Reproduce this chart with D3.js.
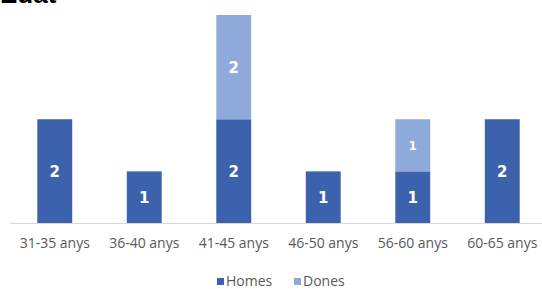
<!DOCTYPE html>
<html>
<head>
<meta charset="utf-8">
<script src="https://cdn.jsdelivr.net/npm/d3@7"></script>
<style>
  body { margin: 0; background: #fff; }
  svg { display: block; }
</style>
</head>
<body>
<div id="chart"></div>
<script>
const categories = ['31-35 anys', '36-40 anys', '41-45 anys', '46-50 anys', '56-60 anys', '60-65 anys'];
const homes = [2, 1, 2, 1, 1, 2];
const dones = [0, 0, 2, 0, 1, 0];
const seriesNames = ['Homes', 'Dones'];
const seriesColors = ['#3d62ad', '#8eaadb'];

const WIDTH = 542;
const HEIGHT = 289;

const rows = categories.map((c, i) => ({ cat: c, Homes: homes[i], Dones: dones[i] }));
const stacked = d3.stack().keys(seriesNames)(rows);

const svg = d3.select('#chart').append('svg')
	.attr('width', WIDTH)
	.attr('height', HEIGHT);

const x = d3.scaleBand()
	.domain(categories)
	.range([10, 547])
	.paddingInner(0.61)
	.paddingOuter(0.305);

const y = d3.scaleLinear()
	.domain([0, 4])
	.range([223.5, 15]);

// title, cut at the top like the source image
svg.append('text')
	.attr('x', 0)
	.attr('y', 3)
	.attr('font-family', 'Liberation Sans, Arial, sans-serif')
	.attr('font-weight', 'bold')
	.attr('font-size', 26)
	.attr('fill', '#000')
	.text('Edat');

// bars
const layers = svg.selectAll('g.layer')
	.data(stacked)
	.join('g')
		.attr('class', 'layer')
		.attr('fill', (d, i) => seriesColors[i]);

layers.selectAll('rect')
	.data(d => d.filter(p => p[1] > p[0]))
	.join('rect')
		.attr('x', d => x(d.data.cat))
		.attr('y', d => y(d[1]))
		.attr('width', x.bandwidth())
		.attr('height', d => y(d[0]) - y(d[1]));

// value labels
layers.selectAll('text')
	.data(d => d.filter(p => p[1] > p[0]).map(p => ({ p, key: d.key })))
	.join('text')
		.attr('x', d => x(d.p.data.cat) + x.bandwidth() / 2)
		.attr('y', d => (y(d.p[0]) + y(d.p[1])) / 2)
		.attr('dy', '0.36em')
		.attr('text-anchor', 'middle')
		.attr('font-family', 'DejaVu Sans, sans-serif')
		.attr('font-weight', 'bold')
		.attr('font-size', d => d.key === 'Dones' && d.p[1] - d.p[0] < 2 ? 12 : 15)
		.attr('fill', '#fff')
		.text(d => d.p[1] - d.p[0]);

// x axis
const xAxis = svg.append('g')
	.attr('transform', `translate(0, ${y(0)})`)
	.call(d3.axisBottom(x).tickSize(0).tickPadding(15));
xAxis.select('.domain').attr('stroke', '#d9d9d9').attr('d', 'M10,0H542');
xAxis.selectAll('text')
	.attr('font-family', 'Open Sans, sans-serif')
	.attr('font-size', 14)
	.attr('fill', '#595959');

// legend
const legend = svg.append('g').attr('transform', 'translate(217, 281)');
const items = legend.selectAll('g')
	.data(seriesNames)
	.join('g')
		.attr('transform', (d, i) => `translate(${i * 77}, 0)`);
items.append('rect')
	.attr('x', 0)
	.attr('y', -3)
	.attr('width', 7)
	.attr('height', 7)
	.attr('fill', (d, i) => seriesColors[i]);
items.append('text')
	.attr('x', 9)
	.attr('y', 0)
	.attr('dy', '0.35em')
	.attr('font-family', 'Open Sans, sans-serif')
	.attr('font-size', 14)
	.attr('fill', '#595959')
	.text(d => d);
</script>
</body>
</html>
